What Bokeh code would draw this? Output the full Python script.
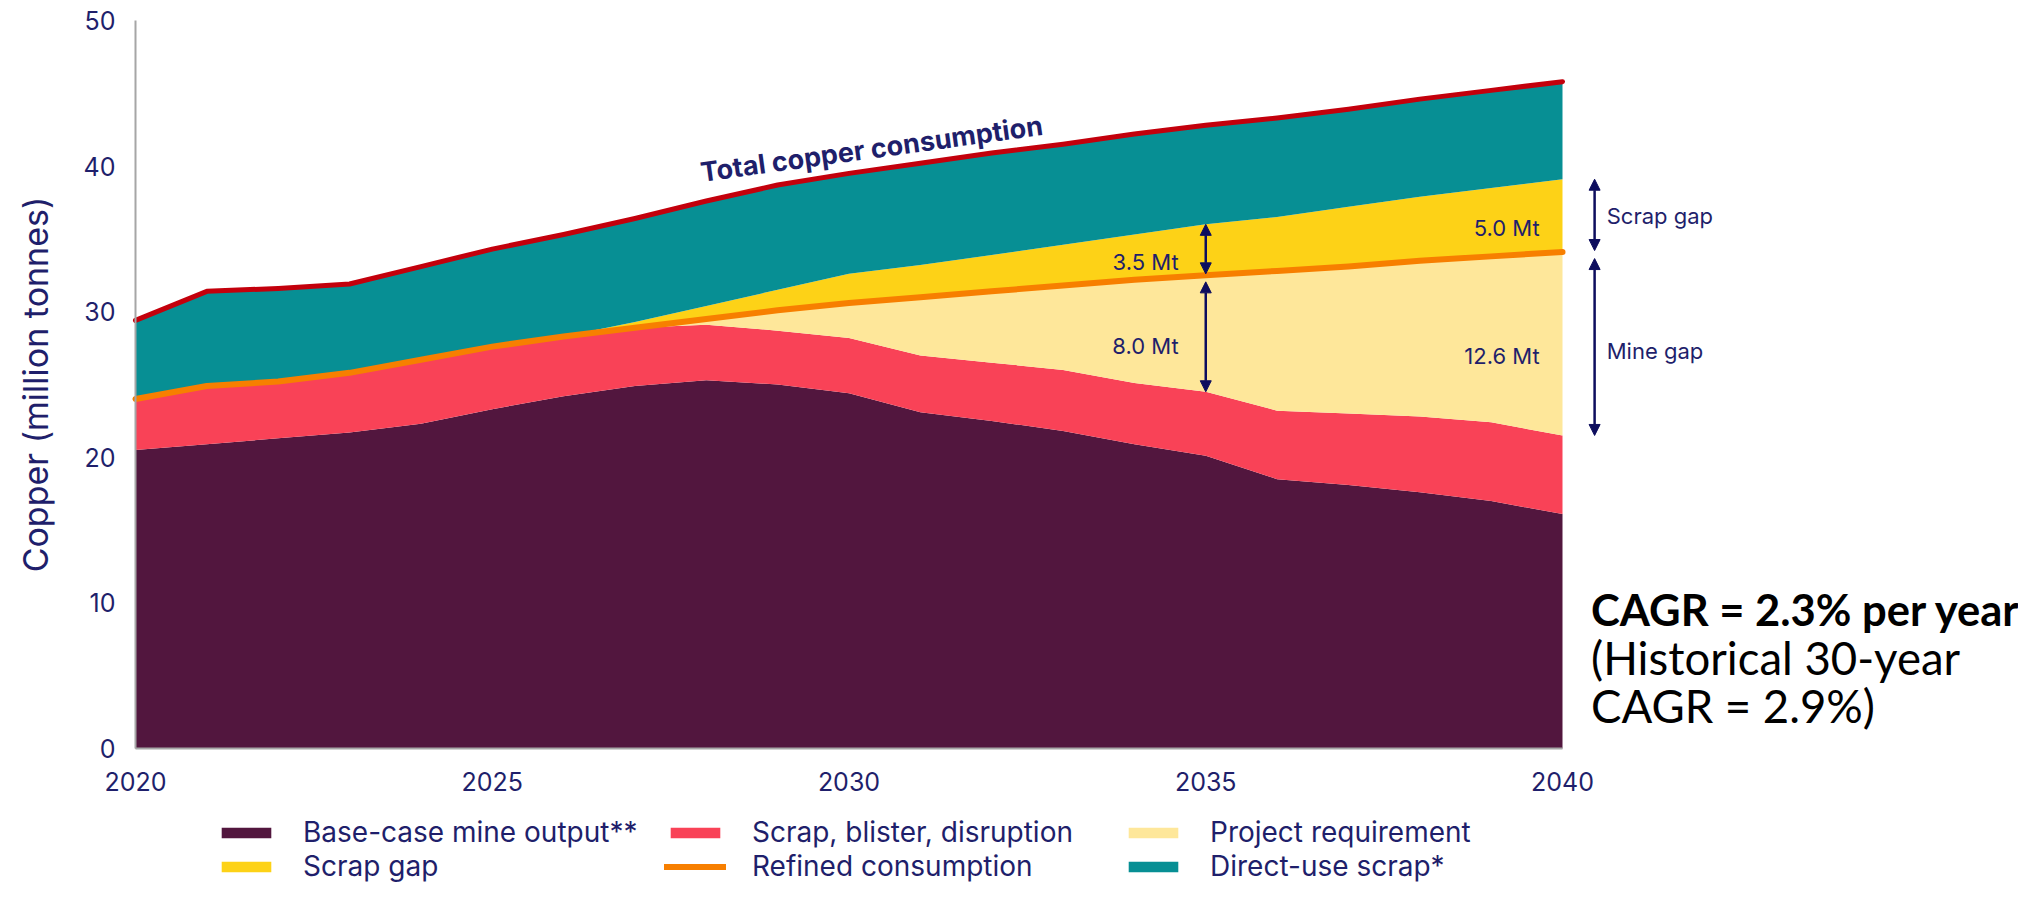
from bokeh.plotting import figure
from bokeh.models import Range1d, Legend, LegendItem, Label, Arrow, NormalHead
from bokeh.embed import file_html
from bokeh.resources import INLINE
import numpy as np

# ---------------- data (million tonnes) ----------------
years = list(range(2020, 2041))
mine_output = [20.5, 20.9, 21.3, 21.7, 22.3, 23.3, 24.2, 24.9, 25.3, 25.0, 24.4,
               23.1, 22.5, 21.8, 20.9, 20.1, 18.5, 18.1, 17.6, 17.0, 16.1]
scrap_blister = [3.5, 4.0, 3.9, 4.1, 4.4, 4.3, 4.1, 4.0, 3.8, 3.7, 3.8,
                 3.9, 4.0, 4.2, 4.2, 4.4, 4.7, 4.9, 5.2, 5.4, 5.4]
refined_consumption = [24.0, 24.9, 25.2, 25.8, 26.7, 27.6, 28.3, 28.9, 29.5, 30.1, 30.6,
                       31.0, 31.4, 31.8, 32.2, 32.5, 32.8, 33.1, 33.5, 33.8, 34.1]
scrap_gap = [0, 0, 0, 0, 0, 0, 0, 0.4, 0.9, 1.4, 2.0,
             2.2, 2.5, 2.8, 3.1, 3.5, 3.7, 4.1, 4.4, 4.7, 5.0]
total_consumption = [29.4, 31.4, 31.6, 31.9, 33.1, 34.3, 35.3, 36.4, 37.6, 38.7, 39.5,
                     40.2, 40.9, 41.5, 42.2, 42.8, 43.3, 43.9, 44.6, 45.2, 45.8]

legend_labels = ["Base-case mine output**", "Scrap, blister, disruption", "Project requirement",
                 "Scrap gap", "Refined consumption", "Direct-use scrap*"]
x_ticks = [2020, 2025, 2030, 2035, 2040]
y_ticks = [0, 10, 20, 30, 40, 50]
gap_years = [2035, 2040]
cagr_lines = ["CAGR = 2.3% per year", "(Historical 30-year", "CAGR = 2.9%)"]

# ---------------- derived stacks ----------------
x = np.array(years, dtype=float)
mine = np.array(mine_output)
red_top = mine + np.array(scrap_blister)
refined = np.array(refined_consumption)
proj_top = np.maximum(refined, red_top)
gap_top = refined + np.array(scrap_gap)
total = np.array(total_consumption)

NAVY = "#1f1f6b"
ARROW = "#0d0d5e"
C_MINE = "#52163e"
C_SCRAP = "#f94257"
C_PROJ = "#fee79a"
C_GAP = "#fdd217"
C_TEAL = "#078f94"
C_TOTAL = "#c3000c"
C_REF = "#f77f00"

# ---------------- layout: the frame fills the canvas, the data box sits inside ----------------
W, H = 2018, 884
BOX_L, BOX_R, BOX_T, BOX_B = 135, 1562, 20, 748
x0, x1 = years[0], years[-1]
y0, y1 = y_ticks[0], y_ticks[-1]
xs = (BOX_R - BOX_L) / (x1 - x0)
ys = (BOX_B - BOX_T) / (y1 - y0)
p = figure(width=W, height=H,
           x_range=Range1d(x0 - BOX_L / xs, x1 + (W - BOX_R) / xs),
           y_range=Range1d(y0 - (H - BOX_B) / ys, y1 + BOX_T / ys),
           output_backend="svg", toolbar_location=None,
           min_border_left=0, min_border_right=0, min_border_top=0, min_border_bottom=0)
p.outline_line_color = None
p.grid.visible = False
p.background_fill_color = "white"

r_mine = p.varea(x=x, y1=np.zeros_like(mine), y2=mine, fill_color=C_MINE)
r_scrap = p.varea(x=x, y1=mine, y2=red_top, fill_color=C_SCRAP)
r_proj = p.varea(x=x, y1=red_top, y2=proj_top, fill_color=C_PROJ)
r_gap = p.varea(x=x, y1=refined, y2=gap_top, fill_color=C_GAP)
r_teal = p.varea(x=x, y1=gap_top, y2=total, fill_color=C_TEAL)
r_ref = p.line(x, refined, line_color=C_REF, line_width=6, line_join="round", line_cap="round")
r_tot = p.line(x, total, line_color=C_TOTAL, line_width=5, line_join="round", line_cap="round")

for ax in (p.xaxis[0], p.yaxis[0]):
    ax.major_tick_line_color = None
    ax.minor_tick_line_color = None
    ax.major_tick_out = 0
    ax.major_tick_in = 0
    ax.axis_line_color = "#a6a6a6"
    ax.axis_line_width = 2
    ax.major_label_text_font = "Inter"
    ax.major_label_text_font_size = "25px"
    ax.major_label_text_color = NAVY
p.xaxis.ticker = x_ticks
p.yaxis.ticker = y_ticks
p.xaxis.fixed_location = y0
p.yaxis.fixed_location = x0
p.xaxis.bounds = (x0, x1)
p.yaxis.bounds = (y0, y1)
p.xaxis.major_label_standoff = 23
p.yaxis.major_label_standoff = 20
p.yaxis.axis_label = "Copper (million tonnes)"
p.yaxis.axis_label_text_font = "Inter"
p.yaxis.axis_label_text_font_size = "34px"
p.yaxis.axis_label_text_font_style = "normal"
p.yaxis.axis_label_text_color = NAVY
p.yaxis.axis_label_standoff = 25

# ---------------- legend: three columns ----------------
cols = [[(legend_labels[0], r_mine), (legend_labels[3], r_gap)],
        [(legend_labels[1], r_scrap), (legend_labels[4], r_ref)],
        [(legend_labels[2], r_proj), (legend_labels[5], r_teal)]]
col_x = [215, 664, 1122]
for cx, col in zip(col_x, cols):
    leg = Legend(items=[LegendItem(label=t, renderers=[r]) for t, r in col],
                 location=(cx, 1), orientation="vertical",
                 label_text_font="Inter", label_text_font_size="28px", label_text_color=NAVY,
                 glyph_width=62, glyph_height=13, label_standoff=26, spacing=0,
                 padding=0, margin=0, border_line_color=None, background_fill_alpha=0)
    p.add_layout(leg, "center")

# ---------------- annotations ----------------
p.add_layout(Label(x=2027.92, y=39.56, text="Total copper consumption", angle=0.137,
                   text_font="Inter", text_font_size="27px", text_font_style="bold",
                   text_color=NAVY, text_baseline="alphabetic", text_align="left"))

for yr in gap_years:
    i = years.index(yr)
    sg = gap_top[i] - refined[i]
    mg = refined[i] - red_top[i]
    arrow_x = yr if yr < x1 else x1 + 0.45
    for ya, yb in ((refined[i] + 0.1, gap_top[i]), (red_top[i], refined[i] - 0.45)):
        p.add_layout(Arrow(x_start=arrow_x, y_start=ya, x_end=arrow_x, y_end=yb,
                           line_color=ARROW, line_width=2.5,
                           start=NormalHead(size=11, fill_color=ARROW, line_color=ARROW),
                           end=NormalHead(size=11, fill_color=ARROW, line_color=ARROW)))
    lx = yr - 0.38 if yr < x1 else yr - 0.32
    p.add_layout(Label(x=lx, y=(refined[i] + gap_top[i]) / 2 - 0.85, text=f"{sg:.1f} Mt",
                       text_font="Inter", text_font_size="22px", text_color=NAVY,
                       text_align="right", text_baseline="middle"))
    p.add_layout(Label(x=lx, y=(red_top[i] + refined[i]) / 2 - 0.85, text=f"{mg:.1f} Mt",
                       text_font="Inter", text_font_size="22px", text_color=NAVY,
                       text_align="right", text_baseline="middle"))

i40 = years.index(x1)
p.add_layout(Label(x=x1 + 0.62, y=(refined[i40] + gap_top[i40]) / 2, text="Scrap gap",
                   text_font="Inter", text_font_size="22px", text_color=NAVY,
                   text_align="left", text_baseline="middle"))
p.add_layout(Label(x=x1 + 0.62, y=(red_top[i40] + refined[i40]) / 2 - 0.5, text="Mine gap",
                   text_font="Inter", text_font_size="22px", text_color=NAVY,
                   text_align="left", text_baseline="middle"))

cagr_sizes = ["43.5px", "45.5px", "45.5px"]
for k, (txt, yy) in enumerate(zip(cagr_lines, [9.6, 6.25, 2.95])):
    p.add_layout(Label(x=x1 + 0.40, y=yy, text=txt, text_font="Lato", text_font_size=cagr_sizes[k],
                       text_font_style="bold" if k == 0 else "normal", text_color="black",
                       text_align="left", text_baseline="middle"))

open("out.html", "w").write(file_html(p, INLINE))
